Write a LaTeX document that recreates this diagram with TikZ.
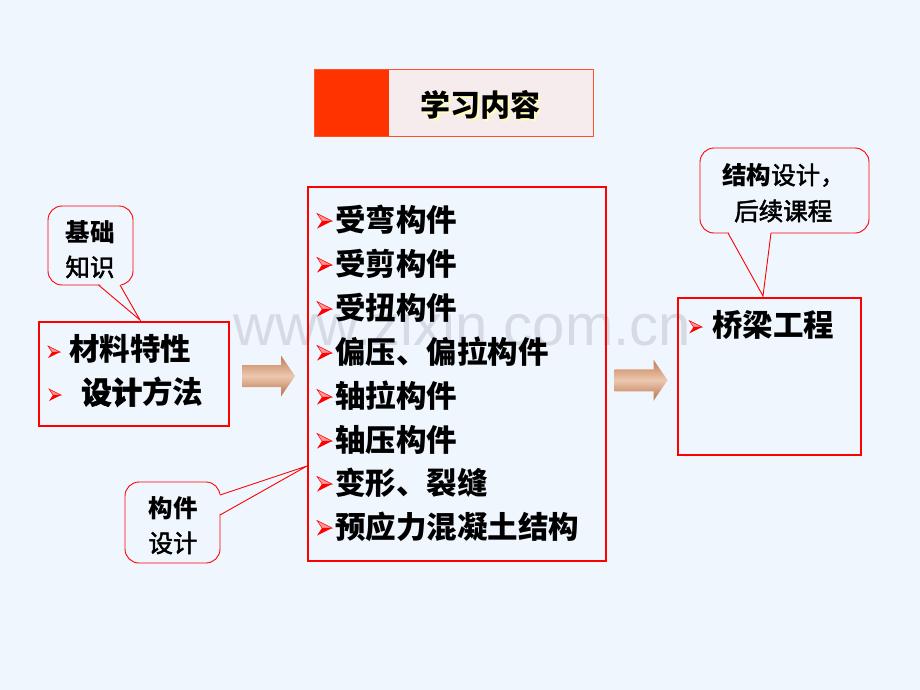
\documentclass[tikz,border=0pt]{standalone}
\usepackage{fontspec}
\newfontfamily\cjk{Noto Sans CJK SC}
\newfontfamily\cjkmed[FakeBold=2]{Noto Sans CJK SC}
\newfontfamily\wmfont{Liberation Sans}
\usetikzlibrary{calc}
\definecolor{bg}{RGB}{239,246,254}
\definecolor{wm}{RGB}{214,218,228}
\definecolor{titlered}{RGB}{255,51,0}
\definecolor{titlefill}{RGB}{247,236,237}
\definecolor{titleline}{RGB}{255,80,40}
\definecolor{shadowy}{RGB}{255,255,185}
\definecolor{bulpink}{RGB}{255,150,150}
\definecolor{arrtop}{RGB}{196,122,80}
\definecolor{arrmid}{RGB}{236,200,176}
\definecolor{arrbot}{RGB}{186,112,72}
\tikzset{
  redbox/.style={draw=red, line width=2.6, inner sep=0, fill=none},
  callout/.style={draw=red, line width=0.9, fill=bg, rounded corners=14, inner sep=0},
  bigtxt/.style={inner sep=0, anchor=west, font=\cjk\bfseries\fontsize{30.5}{30.5}\selectfont},
  midtxt/.style={inner sep=0, font=\cjkmed\fontsize{24.5}{24.5}\selectfont},
  midbold/.style={inner sep=0, font=\cjk\bfseries\fontsize{24.5}{24.5}\selectfont},
  bul/.pic={
    \fill[bulpink, draw=red, line width=0.5] (0,0) -- (-15,-7.5) -- (-10,0) -- cycle;
    \fill[red] (0,0) -- (-15,7.5) -- (-10,0) -- cycle;
  },
  fatarrow/.pic={
    \shade[top color=arrtop, bottom color=arrbot, middle color=arrmid]
      (-26.5,-11) -- (12.5,-11) -- (12.5,-20.5) -- (26.5,0) -- (12.5,20.5) -- (12.5,11) -- (-26.5,11) -- cycle;
  }
}
\begin{document}
\begin{tikzpicture}[x=1pt,y=-1pt]
\fill[bg] (0,0) rectangle (920,690);
\useasboundingbox (0,0) rectangle (920,690);
% watermark
\node[anchor=base west, inner sep=0, text=wm, font=\wmfont\fontsize{58}{58}\selectfont] (wmark) at (233,345) {www.zixin.com.cn};

% title
\node[draw=titleline, fill=titlefill, line width=0.8, minimum width=279, minimum height=67, anchor=north west, inner sep=0] (title) at (314,69) {};
\node[fill=titlered, minimum width=74, minimum height=66.2, anchor=north west, inner sep=0] (titleredpart) at (314.4,69.4) {};
\node[inner sep=0, text=shadowy, font=\cjk\bfseries\fontsize{30}{30}\selectfont] (titleshadow) at (482,107) {学习内容};
\node[inner sep=0, font=\cjk\bfseries\fontsize{30}{30}\selectfont] (titletext) at (480,105) {学习内容};

% boxes
\node[redbox, minimum width=190, minimum height=104] (lbox) at (134,374) {};
\node[redbox, minimum width=298, minimum height=374] (mbox) at (457,374) {};
\node[redbox, minimum width=183, minimum height=157] (rbox) at (769.5,376.5) {};

% left box content
\pic[scale=0.8] at (60,352) {bul};
\node[bigtxt] (l1) at (69,349) {材料特性};
\pic[scale=0.8] at (61,395) {bul};
\node[bigtxt] (l2) at (81,392) {{\cjkmed\fontsize{30.5}{30.5}\selectfont 设计}方法};

% middle list
\pic at (332,221) {bul};
\node[bigtxt] (m1) at (335,220) {受弯构件};
\pic at (332,265) {bul};
\node[bigtxt] (m2) at (335,264) {受剪构件};
\pic at (332,309) {bul};
\node[bigtxt] (m3) at (335,308) {受扭构件};
\pic at (332,353) {bul};
\node[bigtxt] (m4) at (335,352) {偏压、偏拉构件};
\pic at (332,397) {bul};
\node[bigtxt] (m5) at (335,396) {轴拉构件};
\pic at (332,441) {bul};
\node[bigtxt] (m6) at (335,440) {轴压构件};
\pic at (332,484) {bul};
\node[bigtxt] (m7) at (335,483) {变形、裂缝};
\pic at (332,528) {bul};
\node[bigtxt] (m8) at (335,527) {预应力混凝土结构};

% right box content
\pic[scale=0.85] at (702,327) {bul};
\node[bigtxt] (r1) at (712,325) {桥梁工程};

% big arrows
\pic at ($(lbox.east)!0.5!(mbox.west)+(0,2)$) {fatarrow};
\pic at ($(mbox.east)!0.5!(rbox.west)+(-1,5)$) {fatarrow};

% callout 1
\node[callout, minimum width=85, minimum height=79] (c1) at (90.5,245.5) {};
\coordinate (c1tip) at (140,320);
\fill[bg] (98.5,283) -- (120,283) -- (c1tip) -- cycle;
\draw[red, line width=0.9] (98.5,285) -- (c1tip) -- (120,285);
\node[midbold] (c1a) at (90,232) {基础};
\node[midtxt] (c1b) at (90,267) {知识};

% callout 2
\node[callout, minimum width=95, minimum height=81] (c2) at (172.5,522.5) {};
\coordinate (c2tip) at (307,466);
\fill[bg] (218,495) -- (218,515) -- (c2tip) -- cycle;
\draw[red, line width=0.9] (220,495) -- (c2tip) -- (220,515);
\node[midbold] (c2a) at (173,508) {构件};
\node[midtxt] (c2b) at (173,543) {设计};

% callout 3
\node[callout, minimum width=169, minimum height=85] (c3) at (784.5,190.5) {};
\coordinate (c3tip) at (763,296);
\fill[bg] (728,231) -- (771,231) -- (c3tip) -- cycle;
\draw[red, line width=0.9] (728,233) -- (c3tip) -- (771,233);
\node[midtxt, anchor=west] (c3a) at (722,175) {{\cjk\bfseries 结构}设计，};
\node[midtxt, anchor=west] (c3b) at (734,211) {后续课程};
\end{tikzpicture}
\end{document}
